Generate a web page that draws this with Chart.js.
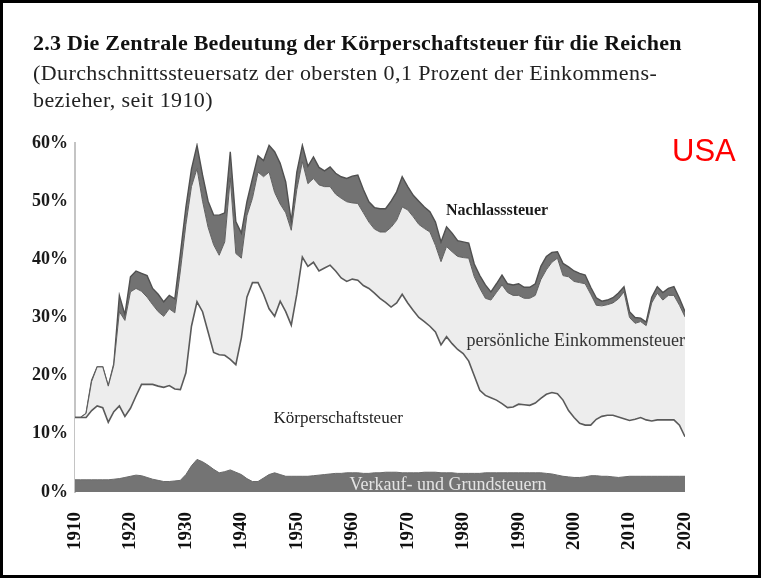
<!DOCTYPE html>
<html lang="de">
<head>
<meta charset="UTF-8">
<title>Die Zentrale Bedeutung der Körperschaftsteuer für die Reichen</title>
<script src="https://cdn.jsdelivr.net/npm/chart.js"></script>
<style>
* { margin: 0; padding: 0; box-sizing: border-box; }
body {
    width: 764px;
    height: 579px;
    background: #fff;
    overflow: hidden;
    position: relative;
    font-family: 'Liberation Serif', serif;
}
#chart { position: absolute; left: 0; top: 0; }
.frame {
    position: absolute;
    left: 0; top: 0;
    width: 761px; height: 578px;
    border: 3px solid #000;
    pointer-events: none;
}
.title {
    position: absolute;
    left: 33px; top: 30px;
    font-size: 22px;
    letter-spacing: 0.25px;
    font-weight: bold;
    color: #111;
    white-space: nowrap;
}
.sub {
    position: absolute;
    left: 33px; top: 59px;
    font-size: 22px;
    letter-spacing: 0.4px;
    line-height: 27px;
    color: #222;
    white-space: nowrap;
}
.usa {
    position: absolute;
    left: 672px; top: 133px;
    font-family: 'Liberation Sans', sans-serif;
    font-size: 31px;
    color: #ff0000;
}
</style>
</head>
<body>
<canvas id="chart" width="764" height="579"></canvas>
<div class="title">2.3 Die Zentrale Bedeutung der Körperschaftsteuer für die Reichen</div>
<div class="sub">(Durchschnittssteuersatz der obersten 0,1 Prozent der Einkommens-<br>bezieher, seit 1910)</div>
<div class="usa">USA</div>
<div class="frame"></div>
<script>
// years 1910..2020, one value per year (cumulative levels, in %)
const firstYear = 1910;
const lastYear = 2020;
const xTicks = [1910, 1920, 1930, 1940, 1950, 1960, 1970, 1980, 1990, 2000, 2010, 2020];
const yTicks = [0, 10, 20, 30, 40, 50, 60];

// top of Verkaufs- und Grundsteuern band
const salesTop = [
    2.1, 2.1, 2.1, 2.1, 2.1, 2.1, 2.1, 2.2, 2.3, 2.5,
    2.7, 2.9, 2.8, 2.5, 2.2, 2.0, 1.8, 1.8, 1.9, 2.0,
    3.0, 4.5, 5.6, 5.2, 4.6, 3.9, 3.3, 3.5, 3.8, 3.4,
    3.0, 2.3, 1.8, 1.8, 2.4, 3.0, 3.3, 3.0, 2.7, 2.7,
    2.7, 2.7, 2.7, 2.8, 2.9, 3.0, 3.1, 3.2, 3.2, 3.3,
    3.3, 3.3, 3.2, 3.2, 3.3, 3.3, 3.4, 3.4, 3.4, 3.3,
    3.3, 3.3, 3.3, 3.4, 3.4, 3.4, 3.3, 3.3, 3.3, 3.2,
    3.2, 3.2, 3.2, 3.2, 3.3, 3.3, 3.3, 3.3, 3.3, 3.3,
    3.3, 3.3, 3.3, 3.3, 3.3, 3.2, 3.1, 2.9, 2.7, 2.6,
    2.5, 2.5, 2.6, 2.8, 2.8, 2.7, 2.7, 2.6, 2.5, 2.6,
    2.7, 2.7, 2.7, 2.7, 2.7, 2.7, 2.7, 2.7, 2.7, 2.7,
    2.7
];

// top of Körperschaftsteuer (the lower line)
const corporateTop = [
    12.8, 12.8, 12.8, 14.0, 14.8, 14.5, 12.0, 13.8, 14.8, 13.0,
    14.4, 16.5, 18.5, 18.5, 18.5, 18.2, 18.0, 18.3, 17.7, 17.6,
    20.5, 28.5, 32.7, 31.0, 27.5, 24.0, 23.6, 23.5, 22.8, 21.9,
    26.5, 33.5, 36.0, 36.0, 34.0, 31.5, 30.2, 32.8, 31.0, 28.7,
    34.0, 40.4, 38.8, 39.5, 38.0, 38.5, 39.0, 38.0, 36.8, 36.2,
    36.6, 36.4, 35.5, 35.0, 34.2, 33.3, 32.6, 31.8, 32.5, 34.0,
    32.5, 31.2, 30.0, 29.3, 28.5, 27.5, 25.3, 26.7, 25.5, 24.5,
    23.8, 22.5, 20.0, 17.5, 16.6, 16.2, 15.8, 15.2, 14.5, 14.6,
    15.1, 15.0, 14.9, 15.3, 16.1, 16.8, 17.1, 16.9, 15.8, 14.0,
    12.8, 11.8, 11.5, 11.5, 12.5, 13.0, 13.2, 13.2, 12.9, 12.6,
    12.3, 12.5, 12.8, 12.4, 12.2, 12.4, 12.4, 12.4, 12.4, 11.5,
    9.5
];

// top of persönliche Einkommensteuer
const incomeTop = [
    12.8, 12.8, 13.5, 19.0, 21.5, 21.5, 18.2, 21.8, 31.0, 29.5,
    34.4, 35.0, 34.5, 33.5, 32.2, 31.0, 30.2, 31.5, 30.8, 38.0,
    46.0, 52.5, 55.6, 50.0, 45.5, 42.5, 40.7, 43.0, 54.0, 41.0,
    40.2, 47.5, 50.5, 55.0, 54.2, 55.0, 51.5, 49.5, 48.0, 45.0,
    52.0, 56.8, 53.0, 53.9, 52.8, 52.5, 52.5, 51.2, 50.5, 49.9,
    49.7, 49.6, 48.0, 46.4, 45.2, 44.7, 44.7, 45.5, 46.7, 49.0,
    48.5, 47.3, 46.0, 45.3, 44.7, 42.4, 39.6, 42.2, 41.3, 40.5,
    40.3, 40.2, 37.0, 35.0, 33.3, 33.0, 34.3, 35.6, 34.3, 33.8,
    33.8, 33.3, 33.3, 33.8, 36.5, 38.2, 39.5, 40.2, 37.2, 37.0,
    36.2, 36.0, 35.8, 34.0, 32.1, 32.0, 32.2, 32.5, 33.2, 34.4,
    30.0, 29.0, 29.3, 28.6, 32.5, 34.2, 33.0, 33.8, 33.8, 32.1,
    30.1
];

// top of Nachlasssteuer (total)
const totalTop = [
    12.8, 12.8, 13.5, 19.2, 21.5, 21.5, 18.2, 22.0, 33.8, 30.5,
    37.0, 38.0, 37.6, 37.2, 35.0, 34.0, 32.7, 33.8, 33.2, 41.0,
    49.0, 55.5, 59.6, 54.5, 50.0, 47.6, 47.6, 48.0, 58.5, 46.5,
    44.5, 49.9, 53.9, 57.8, 57.0, 59.6, 58.5, 56.5, 53.3, 46.5,
    55.0, 59.6, 56.0, 57.6, 55.8, 55.2, 55.9, 54.8, 54.2, 53.9,
    54.3, 54.5, 52.0, 49.9, 48.9, 48.7, 48.7, 50.0, 51.6, 54.2,
    52.5, 51.0, 50.0, 49.0, 48.2, 46.4, 43.0, 45.6, 44.5, 43.2,
    43.0, 42.8, 39.2, 37.2, 35.6, 34.4, 35.8, 37.3, 35.8, 35.6,
    35.8, 35.2, 35.2, 35.8, 38.8, 40.5, 41.2, 41.3, 39.3, 38.7,
    38.0, 37.6, 37.3, 35.2, 33.4, 32.8, 33.0, 33.4, 34.2, 35.3,
    31.0, 30.0, 29.9, 29.2, 33.5, 35.3, 34.3, 35.0, 35.3, 33.3,
    31.0
];

function toPoints(values) {
    return values.map((v, i) => ({ x: firstYear + i, y: v }));
}

// text labels inside the areas, placed in data coordinates
const areaLabels = [
    { text: 'Nachlasssteuer', year: 1976.9, value: 48.3, font: 'bold 16px "Liberation Serif"', color: '#1a1a1a' },
    { text: 'persönliche Einkommensteuer', year: 1980.6, value: 26.0, font: '18px "Liberation Serif"', color: '#333' },
    { text: 'Körperschaftsteuer', year: 1945.8, value: 12.7, font: '17px "Liberation Serif"', color: '#222' },
    { text: 'Verkauf- und Grundsteuern', year: 1959.5, value: 1.1, font: '18px "Liberation Serif"', color: '#e4e4e4' }
];

const labelPlugin = {
    id: 'areaLabels',
    afterDatasetsDraw(chart) {
        const { ctx, scales: { x, y } } = chart;
        ctx.save();
        ctx.textBaseline = 'middle';
        areaLabels.forEach(l => {
            ctx.font = l.font;
            ctx.fillStyle = l.color;
            ctx.fillText(l.text, x.getPixelForValue(l.year), y.getPixelForValue(l.value));
        });
        ctx.restore();
    }
};

new Chart(document.getElementById('chart'), {
    type: 'line',
    data: {
        datasets: [
            { label: 'Verkaufs- und Grundsteuern', data: toPoints(salesTop), fill: 'origin',
              backgroundColor: '#747474', borderColor: '#6a6a6a', borderWidth: 1 },
            { label: 'Körperschaftsteuer', data: toPoints(corporateTop), fill: '-1',
              backgroundColor: '#ffffff', borderColor: '#5a5a5a', borderWidth: 1.6 },
            { label: 'persönliche Einkommensteuer', data: toPoints(incomeTop), fill: '-1',
              backgroundColor: '#ededed', borderColor: '#5e5e5e', borderWidth: 1 },
            { label: 'Nachlasssteuer', data: toPoints(totalTop), fill: '-1',
              backgroundColor: '#727272', borderColor: '#505050', borderWidth: 1.4 }
        ]
    },
    options: {
        responsive: false,
        animation: false,
        elements: { point: { radius: 0 }, line: { tension: 0 } },
        layout: { padding: { top: 143, right: 79, left: 0, bottom: 0 } },
        plugins: { legend: { display: false }, tooltip: { enabled: false } },
        scales: {
            x: {
                type: 'linear',
                min: firstYear,
                max: lastYear,
                afterBuildTicks: s => { s.ticks = xTicks.map(v => ({ value: v })); },
                afterFit: s => { s.height = 87; },
                grid: { display: false },
                border: { display: false },
                ticks: {
                    minRotation: 90, maxRotation: 90, padding: 12,
                    font: { family: 'Liberation Serif', size: 19, weight: 'bold' },
                    color: '#111',
                    callback: v => String(v)
                }
            },
            y: {
                min: 0,
                max: 60,
                afterBuildTicks: s => { s.ticks = yTicks.map(v => ({ value: v })); },
                afterFit: s => { s.width = 75; },
                grid: { display: false, drawTicks: false },
                border: { color: '#c4c4c4', width: 2 },
                ticks: {
                    padding: 7,
                    font: { family: 'Liberation Serif', size: 18, weight: 'bold' },
                    color: '#1a1a1a',
                    callback: v => v + '%'
                }
            }
        }
    },
    plugins: [labelPlugin]
});
</script>
</body>
</html>
